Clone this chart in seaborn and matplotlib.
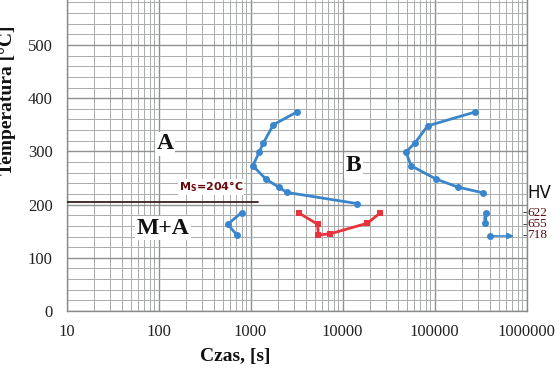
import numpy as np
import pandas as pd
import matplotlib
matplotlib.use("Agg")
import matplotlib.pyplot as plt
from matplotlib.ticker import LogLocator, MultipleLocator, FixedLocator
import matplotlib.transforms as mtrans
import seaborn as sns

# ---- data ----
c1_t = [3180, 1770, 1380, 1240, 1060, 1470, 2020, 2470, 14300]
c1_T = [374, 350, 316, 298, 273, 248, 233, 223, 202]

ma_t = [800, 565, 710]
ma_T = [185, 163, 143]

red_t = [3370, 5370, 5450, 7310, 18600, 25600]
red_T = [184, 163, 143, 145, 165, 184]

c2_t = [275000, 84300, 61400, 49000, 55600, 104000, 179000, 339000]
c2_T = [374, 348, 316, 299, 273, 248, 233, 222]

hv_t = [365000, 355000, 358000]
hv_T = [185, 175, 165]

arrow_t = [401000, 781000]
arrow_T = [141, 141]

hv_labels = ["622", "655", "718"]
hv_label_T = [185, 164, 142]

ms_value = 204
ms_end_t = 1220

xticks = [10, 100, 1000, 10000, 100000, 1000000]
yticks = [0, 100, 200, 300, 400, 500]

blue = "#3a86cc"
red = "#e8323c"

sns.set_style("white")
plt.rcParams['font.family'] = ['Liberation Serif', 'DejaVu Serif']

fig = plt.figure(figsize=(5.6, 3.72), dpi=100)
ax = fig.add_axes([66.5 / 560, 1 - 311 / 372, 460 / 560, 311 / 372])

def curve(t, T, color, marker, ms=5, lw=2.0, markevery=None):
    df = pd.DataFrame({"t": t, "T": T})
    sns.lineplot(data=df, x="t", y="T", sort=False, estimator=None, color=color,
                 marker=marker, markersize=ms, markeredgewidth=0, linewidth=lw,
                 markevery=markevery, ax=ax, zorder=5)

curve(c1_t, c1_T, blue, "o")
curve(ma_t, ma_T, blue, "o")
curve(c2_t, c2_T, blue, "o")
curve(hv_t, hv_T, blue, "o", lw=2.6, markevery=[0, 2])
curve(red_t, red_T, red, "s")
curve(arrow_t[:1], arrow_T[:1], blue, "o")
ax.annotate("", xy=(arrow_t[1], arrow_T[1]), xytext=(arrow_t[0], arrow_T[0]),
            arrowprops=dict(arrowstyle="-|>", color=blue, lw=1.2, mutation_scale=9),
            zorder=5)

# Ms line
ax.plot([10, ms_end_t], [ms_value, ms_value], color="#3a2020", lw=1.3, zorder=4)
ax.text(165, 233, r"M$_\mathregular{S}$=" + f"{ms_value}°C", fontsize=8, fontweight="bold",
        family=["DejaVu Sans"], color="#6b0a0a", va="center", ha="left",
        bbox=dict(facecolor="white", edgecolor="none", pad=0.5), zorder=6)

# region labels
for txt, x, y, fs in [("A", 117, 314, 17), ("B", 13100, 273, 17), ("M+A", 112, 156, 17)]:
    ax.text(x, y, txt, fontsize=fs, fontweight="bold", ha="center", va="center",
            color="#111111", bbox=dict(facecolor="white", edgecolor="none", pad=1),
            zorder=6)

# HV annotations
trans = mtrans.blended_transform_factory(ax.transAxes, ax.transData)
ax.text(1.027, 222, "HV", transform=trans, fontsize=12,
        family=["DejaVu Sans"], ha="center", va="center", color="#111111", clip_on=False)
for lab, T in zip(hv_labels, hv_label_T):
    ax.text(0.9955, T, "-", transform=trans, fontsize=9, fontweight="bold",
            ha="center", va="center", color="black", clip_on=False)
    ax.text(1.002, T, lab, transform=trans, fontsize=9.5, ha="left", va="center",
            color="#5a1010", clip_on=False)

# axes
ax.set_xscale("log")
ax.set_xlim(10, 1000000)
ax.set_ylim(0, 584.6)
ax.xaxis.set_major_locator(FixedLocator(xticks))
ax.set_xticklabels([str(v) for v in xticks])
ax.xaxis.set_minor_locator(LogLocator(base=10, subs=np.arange(2, 10)))
ax.yaxis.set_major_locator(FixedLocator(yticks))
ax.yaxis.set_minor_locator(MultipleLocator(20))
ax.tick_params(axis="both", which="major", labelsize=12, length=4, color="#888888",
               pad=6, labelcolor="#222222")
ax.tick_params(axis="x", which="major", pad=5)
ax.tick_params(which="minor", length=0)
ax.grid(which="major", color="#8f9090", lw=1.0)
ax.grid(which="minor", color="#a9acac", lw=0.7)
ax.set_axisbelow(True)
for s in ["left", "bottom", "right"]:
    ax.spines[s].set_color("#8a8a8a")
    ax.spines[s].set_linewidth(1.0)
ax.spines["top"].set_visible(False)

ax.set_xlabel("Czas, [s]", fontsize=14, fontweight="bold", color="#111111")
ax.xaxis.set_label_coords((235 - 66.5) / 460, -0.12)
ax.set_ylabel("Temperatura [°C]", fontsize=14, fontweight="bold", color="#111111")
ax.yaxis.set_label_coords((16 - 66.5) / 460, (311 - 100) / 311)

fig.savefig("out.png", dpi=100)
